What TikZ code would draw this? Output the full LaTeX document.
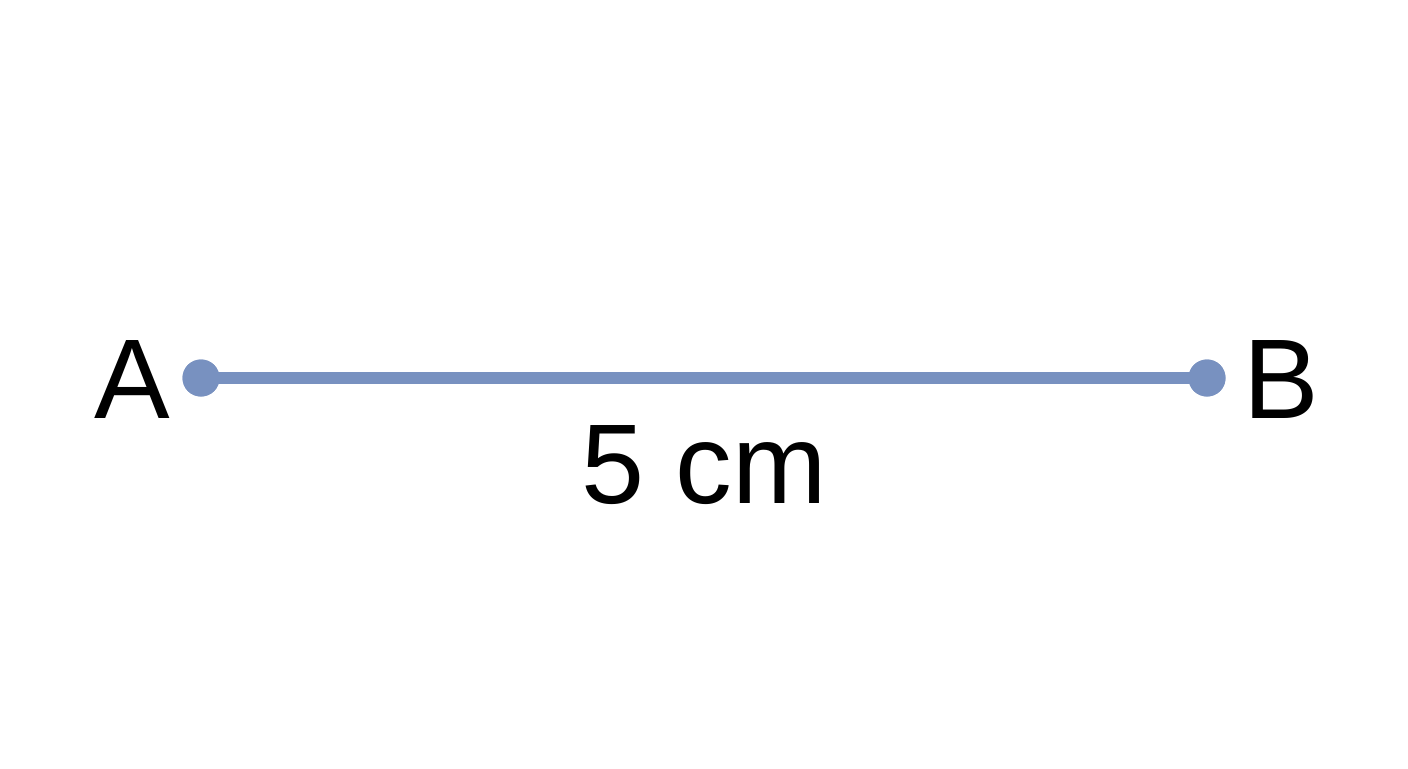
\documentclass[tikz,border=0pt]{standalone}
\usepackage{fontspec}
\setmainfont{Liberation Sans}
\definecolor{segblue}{HTML}{7891C0}
\begin{document}
\begin{tikzpicture}[x=0.75pt,y=-0.75pt,
  lbl/.style={anchor=base,inner sep=0pt,font=\fontsize{85}{100}\selectfont},
  endpt/.style={circle,fill=segblue,minimum size=27.75pt,inner sep=0pt},
  seg/.style={draw=segblue,line width=9pt}]
\useasboundingbox[fill=white] (0,0) rectangle (1408,768);
\node[endpt] (pA) at (201,378) {};
\node[endpt] (pB) at (1207,378) {};
\draw[seg] (pA.center) -- (pB.center);
\node[endpt] at (pA.center) {};
\node[endpt] at (pB.center) {};
\node[lbl] (lA) at (132,418) {A};
\node[lbl] (lB) at (1281,418) {B};
\node[lbl] (len) at (704,503) {5 cm};
\end{tikzpicture}
\end{document}
